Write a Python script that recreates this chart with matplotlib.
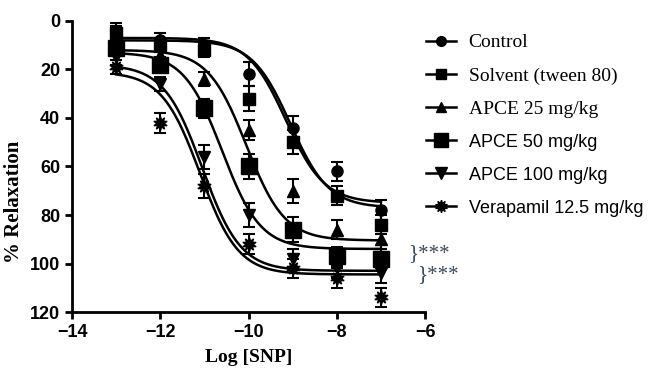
import numpy as np
import matplotlib
matplotlib.use("Agg")
import matplotlib.pyplot as plt

# log [SNP] doses
log_snp = [-13, -12, -11, -10, -9, -8, -7]

# mean % relaxation and SEM for each group
control = [4, 8, 10, 22, 44, 62, 78]
control_err = [3, 3, 3, 5, 5, 4, 4]
solvent = [5, 10, 12, 32, 50, 72, 84]
solvent_err = [3, 3, 3, 5, 5, 4, 4]
apce25 = [9, 14, 24, 45, 70, 86, 90]
apce25_err = [3, 3, 3, 4, 5, 4, 4]
apce50 = [11, 18, 36, 60, 86, 97, 98]
apce50_err = [3, 3, 4, 5, 5, 4, 4]
apce100 = [15, 26, 56, 80, 98, 102, 104]
apce100_err = [3, 3, 5, 5, 4, 4, 4]
verapamil = [19, 42, 68, 92, 102, 106, 114]
verapamil_err = [3, 4, 5, 4, 4, 4, 4]

# fitted sigmoid parameters (top, bottom, logEC50)
fit_control = [7, 75, -9.15]
fit_solvent = [8, 77, -9.05]
fit_apce25 = [12, 90.5, -10.05]
fit_apce50 = [13, 94, -10.6]
fit_apce100 = [18, 103, -11.05]
fit_verapamil = [21, 104.5, -11.1]

labels = ["Control", "Solvent (tween 80)", "APCE 25 mg/kg",
          "APCE 50 mg/kg", "APCE 100 mg/kg", "Verapamil 12.5 mg/kg"]
means = [control, solvent, apce25, apce50, apce100, verapamil]
errs = [control_err, solvent_err, apce25_err, apce50_err, apce100_err, verapamil_err]
fits = [fit_control, fit_solvent, fit_apce25, fit_apce50, fit_apce100, fit_verapamil]
markers = ["o", "s", "^", "s", "v", (10, 1, 0)]
msizes = [8, 8, 8, 11, 9, 10]


def sigmoid(x, top, bottom, logec50):
    return top + (bottom - top) / (1 + 10 ** (logec50 - x))


fig = plt.figure(figsize=(6.57, 3.81), dpi=100)
ax = fig.add_axes([0.1096, 0.181, 0.5374, 0.764])

xs = np.linspace(-13, -7, 200)
for y, e, f, m, ms, lab in zip(means, errs, fits, markers, msizes, labels):
    ax.errorbar(log_snp, y, yerr=e, fmt="none", ecolor="black", elinewidth=1.5,
                capsize=4, capthick=1.5, clip_on=False)
    ax.plot(log_snp, y, linestyle="none", marker=m, markersize=ms, color="black",
            clip_on=False)
    ax.plot(xs, sigmoid(xs, *f), color="black", lw=1.8)
    # legend proxy
    ax.plot([], [], color="black", lw=1.8, marker=m, markersize=ms - 1, label=lab)

ax.set_xlim(-14, -6)
ax.set_ylim(120, 0)
ax.set_xticks([-14, -12, -10, -8, -6])
ax.set_yticks([0, 20, 40, 60, 80, 100, 120])
for s in ["top", "right"]:
    ax.spines[s].set_visible(False)
for s in ["left", "bottom"]:
    ax.spines[s].set_linewidth(2)
ax.tick_params(direction="out", length=5, width=2)
for t in ax.get_xticklabels() + ax.get_yticklabels():
    t.set_family(["Liberation Sans Narrow", "Liberation Sans"])
    t.set_fontweight("bold")
    t.set_fontsize(13)

ax.set_xlabel("Log [SNP]", family="Liberation Serif", fontweight="bold",
              fontsize=14, labelpad=6)
ax.set_ylabel("% Relaxation", family="Liberation Serif", fontweight="bold",
              fontsize=15)
ax.yaxis.set_label_coords(-0.135, 0.38)

leg = ax.legend(loc="upper left", bbox_to_anchor=(0.98, 0.98), frameon=False,
                handlelength=1.6, handletextpad=0.7, labelspacing=0.85,
                fontsize=13.5, borderaxespad=0)
for i, t in enumerate(leg.get_texts()):
    if i < 3:
        t.set_family("Liberation Serif")
        t.set_fontsize(14)
    else:
        t.set_family("Liberation Sans")
        t.set_fontsize(13)

# significance marks
ax.text(-6.38, 96, "}***", family="Liberation Serif", fontsize=15,
        color="#3b4a5c", va="center", clip_on=False)
ax.text(-6.17, 104.5, "}***", family="Liberation Serif", fontsize=15,
        color="#3b4a5c", va="center", clip_on=False)

fig.savefig("out.png", dpi=100)
